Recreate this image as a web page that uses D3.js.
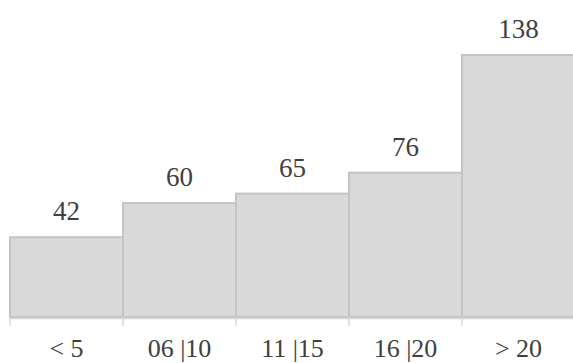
<!DOCTYPE html>
<html>
<head>
<meta charset="utf-8">
<script src="https://cdn.jsdelivr.net/npm/d3@7"></script>
<style>
  body { margin: 0; background: #fff; }
</style>
</head>
<body>
<div id="chart"></div>
<script>
var categories = ["< 5", "06 |10", "11 |15", "16 |20", "> 20"];
var values = [42, 60, 65, 76, 138];

var svgWidth = 573, svgHeight = 363;
var serif = "'Liberation Serif', 'Times New Roman', serif";

var svg = d3.select("#chart").append("svg")
    .attr("width", svgWidth)
    .attr("height", svgHeight);

var x = d3.scaleBand().domain(categories).range([10, 575]).padding(0);
var y = d3.scaleLinear().domain([0, 138]).range([317, 55]);

// bars
svg.selectAll("rect.bar")
    .data(values)
  .enter().append("rect")
    .attr("class", "bar")
    .attr("x", (d, i) => x(categories[i]))
    .attr("y", d => y(d))
    .attr("width", x.bandwidth())
    .attr("height", d => y(0) - y(d))
    .attr("fill", "#d9d9d9")
    .attr("stroke", "#c4c4c4")
    .attr("stroke-width", 2);

// value labels
svg.selectAll("text.val")
    .data(values)
  .enter().append("text")
    .attr("class", "val")
    .attr("x", (d, i) => x(categories[i]) + x.bandwidth() / 2)
    .attr("y", d => y(d) - 17)
    .attr("text-anchor", "middle")
    .attr("font-family", serif)
    .attr("font-size", 27)
    .attr("fill", "#404040")
    .text(d => d);

// x axis
var axis = svg.append("g")
    .attr("transform", "translate(0," + 318 + ")")
    .call(d3.axisBottom(x).tickSize(0).tickPadding(0).tickFormat(""));
axis.select(".domain").attr("stroke", "#d9d9d9").attr("stroke-width", 1.5);

// tick marks at category boundaries
svg.selectAll("line.tk")
    .data(categories)
  .enter().append("line")
    .attr("class", "tk")
    .attr("x1", d => x(d)).attr("x2", d => x(d))
    .attr("y1", 318).attr("y2", 326)
    .attr("stroke", "#d9d9d9")
    .attr("stroke-width", 1.5);

svg.selectAll("text.cat")
    .data(categories)
  .enter().append("text")
    .attr("class", "cat")
    .attr("x", d => x(d) + x.bandwidth() / 2)
    .attr("y", 357)
    .attr("text-anchor", "middle")
    .attr("font-family", serif)
    .attr("font-size", 26)
    .attr("fill", "#404040")
    .text(d => d);
</script>
</body>
</html>
